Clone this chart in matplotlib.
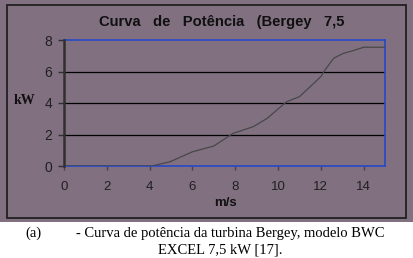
import matplotlib.pyplot as plt
from matplotlib.patches import Rectangle

# dados (m/s, kW)
vento = [0, 4.1, 4.95, 6.0, 7.0, 7.9, 8.85, 9.5, 10.4, 11.0, 11.5, 12.0, 12.2, 12.6, 13.05, 13.5, 14.0, 15.0]
potencia = [0, 0, 0.27, 0.9, 1.27, 2.07, 2.5, 3.03, 4.08, 4.4, 5.03, 5.67, 6.1, 6.84, 7.15, 7.32, 7.54, 7.54]
xticks = [0, 2, 4, 6, 8, 10, 12, 14]
yticks = [0, 2, 4, 6, 8]

W, H = 414, 258
bg = '#807080'
fig = plt.figure(figsize=(W / 100, H / 100), dpi=100)
fig.patch.set_facecolor('white')

# fundo cinza do grafico e moldura
fig.patches.append(Rectangle((0, (H - 222) / H), 1, 222 / H, transform=fig.transFigure,
                             facecolor=bg, edgecolor='none', zorder=-2))
fig.patches.append(Rectangle((7 / W, (H - 218) / H), 399 / W, 213 / H, transform=fig.transFigure,
                             facecolor='none', edgecolor='#202020', lw=1.3, zorder=-1))

ax = fig.add_axes([64 / W, (H - 166) / H, 321 / W, 126 / H])
ax.set_facecolor(bg)
ax.plot(vento, potencia, color='#484848', lw=0.9, zorder=3)
ax.set_xlim(0, 15)
ax.set_ylim(0, 8)
ax.set_xticks(xticks)
ax.set_yticks(yticks)
for v in [2, 4, 6]:
    ax.axhline(v, color='black', lw=0.9, zorder=2)

for s in ['top', 'right', 'bottom']:
    ax.spines[s].set_edgecolor('#2848c8')
    ax.spines[s].set_linewidth(1.2)
# eixo vertical escuro
ax.spines['left'].set_visible(False)
ax.axvline(0, color='#303030', lw=1.8, zorder=6, clip_on=False)
ax.tick_params(axis='y', colors='#303030', labelsize=10, length=4.3, width=1, pad=4)
ax.tick_params(axis='x', colors='#454545', labelsize=9.5, length=3, width=1, pad=8)
for lab in ax.get_xticklabels() + ax.get_yticklabels():
    lab.set_color('#202020')
    lab.set_family('Liberation Sans')

fig.text(222 / W, 1 - 22 / H, 'Curva   de   Potência   (Bergey   7,5', ha='center', va='center',
         fontsize=10.6, fontweight='bold', family='Liberation Sans', color='#101010')
fig.text(24 / W, 1 - 101 / H, 'kW', ha='center', va='center', fontsize=10,
         fontweight='bold', family='Liberation Serif', color='#101010')
fig.text(225 / W, 1 - 203 / H, 'm/s', ha='center', va='center', fontsize=9.5,
         fontweight='bold', family='Liberation Sans', color='#101010')

fig.text(33 / W, 1 - 233 / H, '(a)', ha='center', va='center', fontsize=10.5,
         family='Liberation Serif', color='black')
fig.text(230 / W, 1 - 233 / H, '- Curva de potência da turbina Bergey, modelo BWC', ha='center',
         va='center', fontsize=10.5, family='Liberation Serif', color='black')
fig.text(220 / W, 1 - 250 / H, 'EXCEL 7,5 kW [17].', ha='center', va='center', fontsize=10.5,
         family='Liberation Serif', color='black')

plt.savefig('out.png', dpi=100, facecolor='white')
